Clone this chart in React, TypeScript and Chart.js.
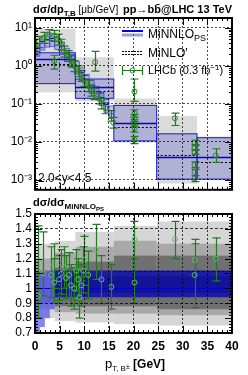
import React, { useEffect, useRef } from "react";
import { Chart, registerables } from "chart.js";
Chart.register(...registerables);

const FONT = "'Liberation Sans', Arial, sans-serif";

// ---------- top panel: LHCb data ----------
const lhcbPt = [0.2, 0.8, 1.8, 2.9, 3.9, 4.7, 5.3, 5.9, 6.7, 7.3, 8.0, 8.8, 9.4, 10.0, 10.8, 11.4, 12.0, 12.9, 13.5, 14.3, 15.5, 15.9, 3.9, 12.2, 20.2, 20.2, 20.2, 20.2, 20.2, 20.2, 28.4, 32.4, 32.4, 32.4, 32.4, 32.4, 32.4, 36.7];
const lhcbVal = [3.64, 4.35, 5.5, 6.6, 6.2, 4.9, 3.6, 2.4, 1.79, 1.33, 0.99, 0.73, 0.54, 0.40, 0.30, 0.22, 0.187, 0.139, 0.103, 0.077, 0.048, 0.032, 1.33, 1.25, 0.21, 0.057, 0.042, 0.031, 0.023, 0.0115, 0.042, 0.0095, 0.0071, 0.0053, 0.0025, 0.0016, 0.0011, 0.0044];
const lhcbLo = [2.4, 3.0, 3.9, 4.7, 4.4, 3.5, 2.6, 1.7, 1.3, 0.95, 0.7, 0.52, 0.39, 0.29, 0.21, 0.16, 0.13, 0.10, 0.074, 0.055, 0.035, 0.023, 0.82, 0.73, 0.116, 0.045, 0.034, 0.025, 0.018, 0.009, 0.027, 0.0085, 0.0063, 0.0047, 0.0021, 0.0013, 0.0009, 0.0029];
const lhcbHi = [5.0, 6.0, 7.6, 9.0, 8.5, 6.8, 5.0, 3.3, 2.5, 1.85, 1.38, 1.0, 0.75, 0.56, 0.42, 0.31, 0.26, 0.19, 0.14, 0.107, 0.066, 0.044, 1.9, 2.4, 0.45, 0.07, 0.052, 0.038, 0.028, 0.014, 0.057, 0.011, 0.008, 0.006, 0.003, 0.0019, 0.0013, 0.0066];

// ---------- top panel: predictions (coarse bins) ----------
const coarseLo = [0, 8.2, 16, 24.7, 32.9];
const coarseHi = [8.2, 16, 24.7, 32.9, 40];
const minnloCentral = [1.49, 0.28, 0.031, 0.0039, 0.0039];
const minnloDown = [0.34, 0.14, 0.0106, 0.00105, 0.00105];
const minnloUp = [2.2, 0.45, 0.091, 0.0163, 0.0129];
const minloCentral = [1.1, 0.22, 0.025, 0.0045, 0.003];
const greyDown = [0.2, 0.116, 0.0096, 0.0008, 0.001];
const greyUp = [9.4, 1.68, 0.138, 0.048, 0.0138];

// ---------- top panel: predictions (fine bins) ----------
const fineLo = [0, 1, 2, 3, 4, 5, 6, 7, 8, 9, 10, 11, 12, 13, 14, 15];
const fineHi = [1, 2, 3, 4, 5, 6, 7, 8, 9, 10, 11, 12, 13, 14, 15, 16];
const fineCentral = [3.0, 4.4, 5.2, 5.3, 4.5, 3.3, 2.2, 1.5, 1.0, 0.68, 0.46, 0.32, 0.22, 0.15, 0.10, 0.068];
const fineDown = [1.8, 2.6, 3.1, 3.2, 2.7, 2.0, 1.3, 0.9, 0.6, 0.41, 0.28, 0.19, 0.13, 0.09, 0.06, 0.041];
const fineUp = [3.9, 5.7, 6.8, 6.9, 5.9, 4.3, 2.9, 2.0, 1.3, 0.88, 0.6, 0.42, 0.29, 0.2, 0.13, 0.088];

const topTickValues = [1e-3, 1e-2, 1e-1, 1, 10];
const topTickLabels = ["10⁻³", "10⁻²", "10⁻¹", "10⁰", "10¹"];

// ---------- ratio panel ----------
const ratioPt = [0.6, 1.6, 3.3, 3.9, 3.9, 4.9, 5.3, 5.9, 6.3, 6.9, 7.3, 8.0, 8.4, 8.8, 9.0, 9.4, 9.8, 10.0, 10.8, 12.4, 13.5, 15.5, 20.2, 20.2, 28.4, 32.4, 32.4, 36.7];
const ratioVal = [0.95, 1.10, 1.09, 1.16, 1.04, 1.06, 1.10, 1.14, 1.07, 1.09, 1.02, 1.00, 1.12, 1.06, 0.94, 1.02, 1.12, 1.19, 1.09, 1.26, 1.06, 1.01, 1.33, 1.04, 1.33, 1.19, 1.09, 1.20];
const ratioLo = [0.80, 0.95, 0.94, 1.0, 0.9, 0.92, 0.96, 1.0, 0.93, 0.94, 0.88, 0.86, 0.98, 0.92, 0.80, 0.88, 0.97, 1.02, 0.93, 1.06, 0.9, 0.86, 1.2, 0.9, 1.2, 0.87, 0.87, 1.05];
const ratioHi = [1.42, 1.38, 1.28, 1.3, 1.2, 1.22, 1.26, 1.28, 1.22, 1.24, 1.16, 1.14, 1.26, 1.2, 1.08, 1.16, 1.28, 1.35, 1.25, 1.43, 1.22, 1.16, 1.45, 1.2, 1.45, 1.33, 1.3, 1.34];

const rBinLo = [0, 4, 8.2, 16, 24.7];
const rBinHi = [4, 8.2, 16, 24.7, 40];
const rLightDown = [0.80, 0.78, 0.77, 0.76, 0.75];
const rLightUp = [1.30, 1.32, 1.38, 1.42, 1.45];
const rMidDown = [0.86, 0.84, 0.83, 0.83, 0.82];
const rMidUp = [1.20, 1.24, 1.28, 1.32, 1.30];
const rDarkDown = [0.90, 0.88, 0.88, 0.88, 0.86];
const rDarkUp = [1.12, 1.14, 1.18, 1.22, 1.22];
const rMinloCentral = [1.0, 0.98, 1.0, 1.12, 1.12];

const rBlueLo = [0, 1, 2, 3, 4];
const rBlueHi = [1, 2, 3, 4, 40];
const rBlueDown = [0.70, 0.74, 0.80, 0.86, 0.94];
const rBlueUp = [1.10, 1.10, 1.11, 1.12, 1.12];

const ratioTicks = [0.7, 0.8, 0.9, 1.0, 1.1, 1.2, 1.3, 1.4, 1.5];
const ratioGrid = [0.9, 1.4];

// ---------- helpers ----------
function clipArea(ctx: CanvasRenderingContext2D, a: any) {
  ctx.beginPath();
  ctx.rect(a.left, a.top, a.right - a.left, a.bottom - a.top);
  ctx.clip();
}
function drawBox(ctx: CanvasRenderingContext2D, xs: any, ys: any, x0: number, x1: number, lo: number, hi: number, fill: string, stroke?: string, lw = 1) {
  const l = xs.getPixelForValue(x0), r = xs.getPixelForValue(x1);
  const t = ys.getPixelForValue(hi), b = ys.getPixelForValue(lo);
  ctx.fillStyle = fill;
  ctx.fillRect(l, t, r - l, b - t);
  if (stroke) {
    ctx.strokeStyle = stroke;
    ctx.lineWidth = lw;
    ctx.strokeRect(l, t, r - l, b - t);
  }
}
function hLine(ctx: CanvasRenderingContext2D, xs: any, ys: any, x0: number, x1: number, v: number, color: string, lw: number, dash: number[] = []) {
  const py = Math.round(ys.getPixelForValue(v)) + 0.5;
  ctx.strokeStyle = color;
  ctx.lineWidth = lw;
  ctx.setLineDash(dash);
  ctx.beginPath();
  ctx.moveTo(xs.getPixelForValue(x0), py);
  ctx.lineTo(xs.getPixelForValue(x1), py);
  ctx.stroke();
  ctx.setLineDash([]);
}
function errorBars(ctx: CanvasRenderingContext2D, xs: any, ys: any, px: number[], lo: number[], hi: number[], color: string) {
  ctx.strokeStyle = color;
  ctx.lineWidth = 1.2;
  ctx.beginPath();
  for (let i = 0; i < px.length; i++) {
    const x = Math.round(xs.getPixelForValue(px[i])) + 0.5;
    const yl = ys.getPixelForValue(lo[i]);
    const yh = ys.getPixelForValue(hi[i]);
    ctx.moveTo(x, yl); ctx.lineTo(x, yh);
    ctx.moveTo(x - 4, yl); ctx.lineTo(x + 4, yl);
    ctx.moveTo(x - 4, yh); ctx.lineTo(x + 4, yh);
  }
  ctx.stroke();
}
type Part = { t: string; size: number; dy?: number; bold?: boolean };
function rich(ctx: CanvasRenderingContext2D, parts: Part[], x: number, y: number, align: "left" | "right" | "center" = "left") {
  ctx.save();
  ctx.textAlign = "left";
  ctx.textBaseline = "alphabetic";
  let total = 0;
  for (const p of parts) {
    ctx.font = `${p.bold ? "bold " : ""}${p.size}px ${FONT}`;
    total += ctx.measureText(p.t).width;
  }
  let cx = align === "left" ? x : align === "right" ? x - total : x - total / 2;
  for (const p of parts) {
    ctx.font = `${p.bold ? "bold " : ""}${p.size}px ${FONT}`;
    ctx.fillStyle = "#000";
    ctx.fillText(p.t, cx, y + (p.dy || 0));
    cx += ctx.measureText(p.t).width;
  }
  ctx.restore();
}
function xFrameTicks(ctx: CanvasRenderingContext2D, a: any, xs: any) {
  ctx.beginPath();
  for (let v = 0; v <= 40; v++) {
    const px = Math.round(xs.getPixelForValue(v)) + 0.5;
    const len = v % 5 === 0 ? 7 : 3;
    ctx.moveTo(px, a.top); ctx.lineTo(px, a.top + len);
    ctx.moveTo(px, a.bottom); ctx.lineTo(px, a.bottom - len);
  }
  ctx.stroke();
}

// ---------- charts ----------
function topConfig(): any {
  const boxes = {
    id: "boxes",
    beforeDatasetsDraw(chart: any) {
      const { ctx, chartArea: a, scales: { x, y } } = chart;
      ctx.save();
      clipArea(ctx, a);
      for (let i = 0; i < coarseLo.length; i++)
        drawBox(ctx, x, y, coarseLo[i], coarseHi[i], greyDown[i], greyUp[i], "rgba(195,195,195,0.6)");
      for (let i = 0; i < coarseLo.length; i++)
        drawBox(ctx, x, y, coarseLo[i], coarseHi[i], minnloDown[i], minnloUp[i], "rgba(70,70,200,0.28)", "#1a1acc", 1);
      for (let i = 0; i < fineLo.length; i++)
        drawBox(ctx, x, y, fineLo[i], fineHi[i], fineDown[i], fineUp[i], "rgba(80,80,210,0.3)", "rgba(30,30,200,0.7)", 0.8);
      for (let i = 0; i < coarseLo.length; i++) {
        hLine(ctx, x, y, coarseLo[i], coarseHi[i], minnloCentral[i], "#0000dd", 1.5);
        hLine(ctx, x, y, coarseLo[i], coarseHi[i], minloCentral[i], "#000", 1, [2, 2]);
      }
      for (let i = 0; i < fineLo.length; i++)
        hLine(ctx, x, y, fineLo[i], fineHi[i], fineCentral[i], "#1010cc", 1);
      errorBars(ctx, x, y, lhcbPt, lhcbLo, lhcbHi, "#237a23");
      ctx.restore();
    },
    afterDraw(chart: any) {
      const { ctx, chartArea: a, scales: { x, y } } = chart;
      ctx.save();
      ctx.strokeStyle = "#000";
      ctx.lineWidth = 1;
      xFrameTicks(ctx, a, x);
      ctx.beginPath();
      for (let d = -4; d <= 1; d++) for (let m = 1; m <= 9; m++) {
        const v = m * Math.pow(10, d);
        if (v < y.min || v > y.max) continue;
        const py = Math.round(y.getPixelForValue(v)) + 0.5;
        const len = m === 1 ? 7 : 3;
        ctx.moveTo(a.left, py); ctx.lineTo(a.left + len, py);
        ctx.moveTo(a.right, py); ctx.lineTo(a.right - len, py);
      }
      ctx.stroke();
      ctx.lineWidth = 2;
      ctx.strokeRect(a.left, a.top, a.right - a.left, a.bottom - a.top);

      // title
      rich(ctx, [{ t: "dσ/dp", size: 11, bold: true }, { t: "T,B", size: 8, dy: 3, bold: true }, { t: " [μb/GeV]", size: 10 }], 33, 13);
      rich(ctx, [{ t: "pp→bb̄@LHC 13 TeV", size: 11, bold: true }], 232, 13, "right");

      // legend
      ctx.lineWidth = 2; ctx.strokeStyle = "#0000dd";
      ctx.beginPath(); ctx.moveTo(122, 31); ctx.lineTo(143, 31); ctx.stroke();
      ctx.lineWidth = 3; ctx.strokeStyle = "rgba(90,90,230,0.6)";
      ctx.beginPath(); ctx.moveTo(122, 35); ctx.lineTo(143, 35); ctx.stroke();
      rich(ctx, [{ t: "MiNNLO", size: 12 }, { t: "PS", size: 9, dy: 3 }], 148, 38);
      ctx.lineWidth = 1; ctx.strokeStyle = "#000"; ctx.setLineDash([2, 1]);
      ctx.beginPath(); ctx.moveTo(122, 51.5); ctx.lineTo(143, 51.5); ctx.moveTo(122, 54.5); ctx.lineTo(143, 54.5); ctx.stroke();
      ctx.setLineDash([]);
      rich(ctx, [{ t: "MiNLO′", size: 12 }], 148, 57);
      ctx.lineWidth = 1.2; ctx.strokeStyle = "#237a23";
      ctx.beginPath();
      ctx.moveTo(122, 70.5); ctx.lineTo(143, 70.5);
      ctx.moveTo(122.5, 66); ctx.lineTo(122.5, 75);
      ctx.moveTo(142.5, 66); ctx.lineTo(142.5, 75);
      ctx.stroke();
      ctx.strokeStyle = "#2e7d2e"; ctx.lineWidth = 1;
      ctx.beginPath(); ctx.arc(132.5, 70.5, 2.5, 0, Math.PI * 2); ctx.stroke();
      rich(ctx, [{ t: "LHCb (0.3 fb", size: 11 }, { t: "−1", size: 8, dy: -4 }, { t: ")", size: 11 }], 148, 74);

      rich(ctx, [{ t: "2.0<y<4.5", size: 12 }], 38, 182);
      ctx.restore();
    },
  };
  return {
    type: "scatter",
    data: {
      datasets: [{
        data: lhcbPt.map((v, i) => ({ x: v, y: lhcbVal[i] })),
        pointRadius: 2.5,
        pointBorderColor: "#2e7d2e",
        pointBackgroundColor: "rgba(0,0,0,0)",
        pointBorderWidth: 1,
      }],
    },
    options: {
      animation: false,
      responsive: false,
      maintainAspectRatio: false,
      devicePixelRatio: 1,
      events: [],
      layout: { padding: { top: 18, right: 16, bottom: 7, left: 0 } },
      plugins: { legend: { display: false }, tooltip: { enabled: false }, title: { display: false } },
      scales: {
        x: {
          type: "linear", min: 0, max: 40,
          ticks: { display: false, stepSize: 5 },
          grid: { color: "rgba(0,0,0,0.7)", lineWidth: 1, drawTicks: false, z: 1 },
          border: { display: false, dash: [2, 2] },
          afterFit: (s: any) => { s.height = 0; },
        },
        y: {
          type: "logarithmic", min: 5.5e-4, max: 18.1,
          afterBuildTicks: (s: any) => { s.ticks = topTickValues.map((v) => ({ value: v })); },
          ticks: {
            autoSkip: false,
            padding: 3, color: "#000", font: { family: FONT, size: 12 },
            callback: (v: any) => { const i = topTickValues.indexOf(v); return i >= 0 ? topTickLabels[i] : ""; },
          },
          grid: { color: "rgba(0,0,0,0.7)", lineWidth: 1, drawTicks: false, z: 1 },
          border: { display: false, dash: [2, 2] },
          afterFit: (s: any) => { s.width = 35; },
        },
      },
    },
    plugins: [boxes],
  };
}

function bottomConfig(): any {
  const layers = {
    id: "layers",
    beforeDatasetsDraw(chart: any) {
      const { ctx, chartArea: a, scales: { x, y } } = chart;
      ctx.save();
      clipArea(ctx, a);
      for (let i = 0; i < rBinLo.length; i++)
        drawBox(ctx, x, y, rBinLo[i], rBinHi[i], rLightDown[i], rLightUp[i], "#d6d6d6");
      for (let i = 0; i < rBinLo.length; i++)
        drawBox(ctx, x, y, rBinLo[i], rBinHi[i], rMidDown[i], rMidUp[i], "#a9a9a9");
      for (let i = 0; i < rBinLo.length; i++)
        drawBox(ctx, x, y, rBinLo[i], rBinHi[i], rDarkDown[i], rDarkUp[i], "#707070");
      for (let i = 0; i < rBlueLo.length; i++)
        drawBox(ctx, x, y, rBlueLo[i], rBlueHi[i], rBlueDown[i], rBlueUp[i], i < 4 ? "rgba(90,90,240,0.75)" : "rgba(20,20,170,0.9)");
      drawBox(ctx, x, y, 4, 40, 0.97, 1.08, "rgba(10,10,140,0.5)");
      for (let i = 0; i < rBinLo.length; i++)
        hLine(ctx, x, y, rBinLo[i], rBinHi[i], rMinloCentral[i], "#111", 1, [3, 2]);
      hLine(ctx, x, y, 0, 40, 1.0, "#0000cc", 1);
      errorBars(ctx, x, y, ratioPt, ratioLo, ratioHi, "#237a23");
      ctx.restore();
    },
    afterDraw(chart: any) {
      const { ctx, chartArea: a, scales: { x, y } } = chart;
      ctx.save();
      ctx.strokeStyle = "#000";
      ctx.lineWidth = 1;
      xFrameTicks(ctx, a, x);
      ctx.beginPath();
      for (let k = 0; k <= 40; k++) {
        const v = 0.7 + k * 0.02;
        const py = Math.round(y.getPixelForValue(v)) + 0.5;
        const len = k % 5 === 0 ? 7 : 3;
        ctx.moveTo(a.left, py); ctx.lineTo(a.left + len, py);
        ctx.moveTo(a.right, py); ctx.lineTo(a.right - len, py);
      }
      ctx.stroke();
      ctx.lineWidth = 2;
      ctx.strokeRect(a.left, a.top, a.right - a.left, a.bottom - a.top);
      rich(ctx, [{ t: "dσ/dσ", size: 11, bold: true }, { t: "MiNNLO", size: 8, dy: 3, bold: true }, { t: "PS", size: 6, dy: 5, bold: true }], 33, 16);
      rich(ctx, [{ t: "p", size: 13 }, { t: "T, B", size: 8, dy: 3 }, { t: "±", size: 7, dy: 1 }, { t: " [GeV]", size: 12, bold: true }], 135, 178, "center");
      ctx.restore();
    },
  };
  return {
    type: "scatter",
    data: {
      datasets: [{
        data: ratioPt.map((v, i) => ({ x: v, y: ratioVal[i] })),
        pointRadius: 2.5,
        pointBorderColor: "#5cbf5c",
        pointBackgroundColor: "rgba(0,0,0,0)",
        pointBorderWidth: 1,
      }],
    },
    options: {
      animation: false,
      responsive: false,
      maintainAspectRatio: false,
      devicePixelRatio: 1,
      events: [],
      layout: { padding: { top: 24, right: 16, bottom: 0, left: 0 } },
      plugins: { legend: { display: false }, tooltip: { enabled: false }, title: { display: false } },
      scales: {
        x: {
          type: "linear", min: 0, max: 40,
          ticks: { stepSize: 5, padding: 6, autoSkip: false, color: "#000", font: { family: FONT, size: 12, weight: "bold" }, maxRotation: 0 },
          grid: { color: "rgba(0,0,0,0.75)", lineWidth: 1, drawTicks: false, z: 1 },
          border: { display: false, dash: [2, 2] },
          afterFit: (s: any) => { s.height = 42; },
        },
        y: {
          type: "linear", min: 0.7, max: 1.5,
          afterBuildTicks: (s: any) => { s.ticks = ratioTicks.map((v) => ({ value: v })); },
          ticks: {
            autoSkip: false,
            padding: 3, color: "#000", font: { family: FONT, size: 12 },
            callback: (v: any) => (Math.abs(v - 1) < 1e-9 ? "1" : Number(v).toFixed(1)),
          },
          grid: {
            lineWidth: 1, drawTicks: false, z: 1,
            color: (c: any) => (c.tick && ratioGrid.some((g) => Math.abs(g - c.tick.value) < 1e-9) ? "rgba(0,0,0,0.75)" : "rgba(0,0,0,0)"),
          },
          border: { display: false, dash: [3, 2] },
          afterFit: (s: any) => { s.width = 35; },
        },
      },
    },
    plugins: [layers],
  };
}

export default function App() {
  const topRef = useRef<HTMLCanvasElement>(null);
  const botRef = useRef<HTMLCanvasElement>(null);
  useEffect(() => {
    const t = new Chart(topRef.current as HTMLCanvasElement, topConfig());
    const b = new Chart(botRef.current as HTMLCanvasElement, bottomConfig());
    return () => { t.destroy(); b.destroy(); };
  }, []);
  return (
    <div style={{ position: "fixed", left: 0, top: 0, width: 248, height: 375, background: "#fff" }}>
      <canvas ref={topRef} width={248} height={200} style={{ position: "absolute", left: 0, top: 0, width: 248, height: 200 }} />
      <canvas ref={botRef} width={248} height={185} style={{ position: "absolute", left: 0, top: 190, width: 248, height: 185 }} />
    </div>
  );
}
